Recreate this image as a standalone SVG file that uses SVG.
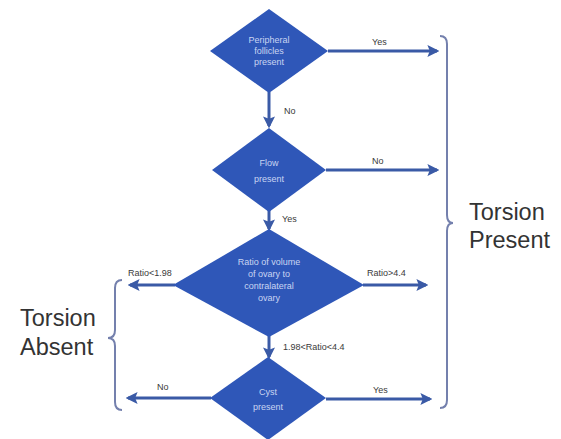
<svg xmlns="http://www.w3.org/2000/svg" width="561" height="439" viewBox="0 0 561 439">
  <style>
    .dia { fill: #2f57b8; }
    .dtxt { font-family: "Liberation Sans", Arial, sans-serif; font-size: 9px; fill: #c9d5f2; text-anchor: middle; }
    .lbl { font-family: "Liberation Sans", Arial, sans-serif; font-size: 9px; fill: #3a3a3a; }
    .big { font-family: "Liberation Sans", Arial, sans-serif; font-size: 23.5px; fill: #333333; }
    .arr { stroke: #3a5aa6; stroke-width: 3; fill: none; marker-end: url(#ah); }
    .brace { stroke: #7480ad; stroke-width: 2; fill: none; }
  </style>
  <defs>
    <marker id="ah" viewBox="0 0 10 10" refX="8" refY="5" markerWidth="4" markerHeight="4" orient="auto" markerUnits="strokeWidth">
      <path d="M0,0 L10,5 L0,10 L2,5 Z" fill="#3a5aa6"/>
    </marker>
  </defs>
  <rect width="561" height="439" fill="#ffffff"/>

  <g id="connectors">
    <line class="arr" x1="328" y1="51" x2="437" y2="51"/>
    <line class="arr" x1="269" y1="92" x2="269" y2="126"/>
    <line class="arr" x1="326" y1="170" x2="437" y2="170"/>
    <line class="arr" x1="269" y1="210" x2="269" y2="229"/>
    <line class="arr" x1="175" y1="285" x2="130" y2="285"/>
    <line class="arr" x1="363" y1="285" x2="426" y2="285"/>
    <line class="arr" x1="269" y1="336" x2="269" y2="357"/>
    <line class="arr" x1="211" y1="398" x2="128" y2="398"/>
    <line class="arr" x1="326" y1="399" x2="430" y2="399"/>
    <text class="lbl" x="372" y="45">Yes</text>
    <text class="lbl" x="284" y="114">No</text>
    <text class="lbl" x="372" y="164">No</text>
    <text class="lbl" x="282" y="222">Yes</text>
    <text class="lbl" x="128" y="276">Ratio&lt;1.98</text>
    <text class="lbl" x="367" y="276">Ratio&gt;4.4</text>
    <text class="lbl" x="283" y="350">1.98&lt;Ratio&lt;4.4</text>
    <text class="lbl" x="157" y="390">No</text>
    <text class="lbl" x="373" y="393">Yes</text>
  </g>

  <g id="peripheral">
    <polygon class="dia" points="269,9 328,51 269,93 210,51"/>
    <text class="dtxt" x="269" y="43">Peripheral</text>
    <text class="dtxt" x="269" y="54">follicles</text>
    <text class="dtxt" x="269" y="65">present</text>
  </g>

  <g id="flow">
    <polygon class="dia" points="269,128 326,170 269,212 212,170"/>
    <text class="dtxt" x="269" y="166">Flow</text>
    <text class="dtxt" x="269" y="182">present</text>
  </g>

  <g id="ratio">
    <polygon class="dia" points="269,229 364,285 269,337 173,285"/>
    <text class="dtxt" x="269" y="265">Ratio of volume</text>
    <text class="dtxt" x="269" y="277">of ovary to</text>
    <text class="dtxt" x="269" y="289">contralateral</text>
    <text class="dtxt" x="269" y="301">ovary</text>
  </g>

  <g id="cyst">
    <polygon class="dia" points="268,357 326,398 268,440 210,398"/>
    <text class="dtxt" x="268" y="395">Cyst</text>
    <text class="dtxt" x="268" y="410">present</text>
  </g>

  <g id="torsion-present">
    <path class="brace" d="M440,36 Q447,36 447,44 L447,215 Q447,223 453,223 Q447,223 447,231 L447,400 Q447,408 440,408"/>
    <text class="big" x="469" y="220">Torsion</text>
    <text class="big" x="469" y="248">Present</text>
  </g>

  <g id="torsion-absent">
    <path class="brace" d="M122,280 Q115,280 115,288 L115,330 Q115,338 108,338 Q115,338 115,346 L115,402 Q115,410 122,410"/>
    <text class="big" x="20" y="326">Torsion</text>
    <text class="big" x="20" y="355">Absent</text>
  </g>
</svg>
